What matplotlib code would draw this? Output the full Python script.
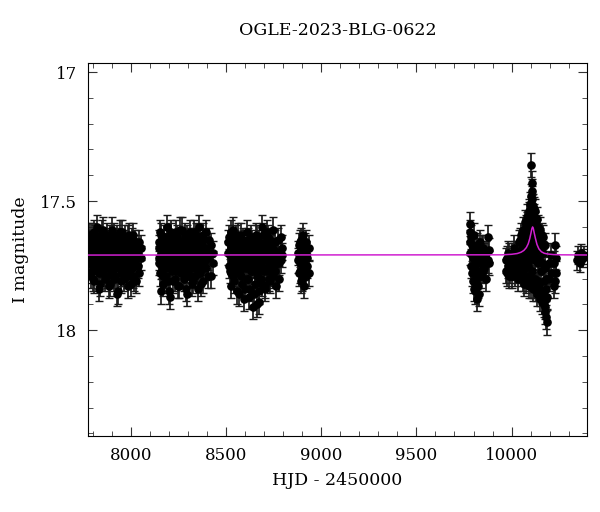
import numpy as np
import matplotlib
matplotlib.use("Agg")
import matplotlib.pyplot as plt
from matplotlib.ticker import MultipleLocator

plt.rcParams['font.family'] = ['DejaVu Serif']

# --- light curve, one block per observing season (HJD - 2450000, I mag) ---
# two frames per night -> two magnitude lists share one list of times
s1_t = [7776, 7780, 7783, 7788, 7791, 7795, 7799, 7802, 7806, 7810,
        7813, 7817, 7821, 7825, 7828, 7832, 7836, 7840, 7843, 7847,
        7851, 7855, 7858, 7862, 7866, 7870, 7873, 7877, 7881, 7885,
        7888, 7892, 7896, 7900, 7903, 7907, 7911, 7915, 7918, 7922,
        7926, 7930, 7933, 7937, 7941, 7945, 7948, 7952, 7956, 7960,
        7963, 7967, 7971, 7975, 7978, 7982, 7986, 7990, 7993, 7997,
        8001, 8005, 8008, 8012, 8016, 8020, 8026, 8033, 8041, 8052]
s1_mag = [17.70, 17.66, 17.74, 17.79, 17.63, 17.72, 17.68, 17.81, 17.75, 17.64,
          17.71, 17.77, 17.60, 17.69, 17.84, 17.73, 17.66, 17.70, 17.78, 17.62,
          17.75, 17.68, 17.72, 17.80, 17.65, 17.71, 17.63, 17.76, 17.69, 17.74,
          17.82, 17.67, 17.70, 17.61, 17.77, 17.73, 17.66, 17.79, 17.70, 17.64,
          17.72, 17.85, 17.68, 17.75, 17.62, 17.71, 17.78, 17.66, 17.73, 17.69,
          17.80, 17.64, 17.74, 17.70, 17.67, 17.83, 17.72, 17.63, 17.76, 17.69,
          17.71, 17.65, 17.79, 17.73, 17.68, 17.74, 17.81, 17.70, 17.66, 17.72]
s1_mag2 = [17.74, 17.69, 17.63, 17.72, 17.77, 17.66, 17.80, 17.70, 17.62, 17.73,
           17.68, 17.75, 17.71, 17.64, 17.78, 17.67, 17.82, 17.73, 17.65, 17.70,
           17.61, 17.76, 17.69, 17.67, 17.74, 17.79, 17.72, 17.66, 17.83, 17.70,
           17.64, 17.75, 17.77, 17.68, 17.72, 17.63, 17.80, 17.71, 17.74, 17.86,
           17.67, 17.70, 17.76, 17.65, 17.73, 17.81, 17.69, 17.62, 17.75, 17.78,
           17.66, 17.72, 17.68, 17.79, 17.74, 17.64, 17.70, 17.77, 17.67, 17.82,
           17.73, 17.76, 17.63, 17.69, 17.80, 17.66, 17.72, 17.75, 17.78, 17.68]
s1_err = 0.047

s2_t = [8143, 8147, 8150, 8154, 8158, 8162, 8166, 8169, 8173, 8177,
        8181, 8185, 8188, 8192, 8196, 8200, 8204, 8207, 8211, 8215,
        8219, 8223, 8226, 8230, 8234, 8238, 8242, 8245, 8249, 8253,
        8257, 8261, 8264, 8268, 8272, 8276, 8280, 8283, 8287, 8291,
        8295, 8299, 8302, 8306, 8310, 8314, 8318, 8321, 8325, 8329,
        8333, 8337, 8340, 8344, 8348, 8352, 8356, 8359, 8363, 8367,
        8371, 8375, 8379, 8384, 8389, 8395, 8402, 8410, 8419, 8428]
s2_mag = [17.68, 17.74, 17.62, 17.85, 17.71, 17.66, 17.79, 17.70, 17.64, 17.76,
          17.72, 17.60, 17.69, 17.81, 17.67, 17.74, 17.87, 17.71, 17.63, 17.77,
          17.70, 17.66, 17.73, 17.80, 17.62, 17.69, 17.75, 17.65, 17.72, 17.83,
          17.68, 17.74, 17.61, 17.70, 17.78, 17.66, 17.73, 17.69, 17.84, 17.64,
          17.71, 17.76, 17.67, 17.62, 17.79, 17.70, 17.73, 17.65, 17.81, 17.68,
          17.72, 17.75, 17.63, 17.70, 17.66, 17.78, 17.60, 17.74, 17.69, 17.82,
          17.71, 17.65, 17.76, 17.68, 17.73, 17.62, 17.79, 17.70, 17.67, 17.74]
s2_mag2 = [17.72, 17.66, 17.78, 17.70, 17.63, 17.75, 17.68, 17.82, 17.73, 17.67,
           17.79, 17.71, 17.64, 17.74, 17.70, 17.85, 17.66, 17.62, 17.76, 17.69,
           17.81, 17.73, 17.67, 17.71, 17.77, 17.64, 17.70, 17.83, 17.68, 17.74,
           17.61, 17.78, 17.72, 17.66, 17.75, 17.80, 17.69, 17.63, 17.73, 17.77,
           17.86, 17.67, 17.71, 17.74, 17.65, 17.68, 17.82, 17.76, 17.70, 17.62,
           17.79, 17.66, 17.73, 17.69, 17.84, 17.71, 17.75, 17.64, 17.78, 17.67,
           17.70, 17.81, 17.63, 17.74, 17.68, 17.76, 17.72, 17.65, 17.79, 17.70]
s2_err = 0.047

s3_t = [8511, 8515, 8518, 8522, 8526, 8530, 8534, 8537, 8541, 8545,
        8549, 8553, 8556, 8560, 8564, 8568, 8572, 8575, 8579, 8583,
        8587, 8591, 8594, 8598, 8602, 8606, 8610, 8613, 8617, 8621,
        8625, 8629, 8632, 8636, 8640, 8644, 8648, 8651, 8655, 8659,
        8663, 8667, 8670, 8674, 8678, 8682, 8686, 8689, 8693, 8697,
        8701, 8705, 8708, 8712, 8716, 8720, 8724, 8727, 8731, 8735,
        8739, 8743, 8747, 8752, 8757, 8763, 8770, 8778, 8786, 8795]
s3_mag = [17.70, 17.64, 17.77, 17.83, 17.68, 17.73, 17.61, 17.79, 17.71, 17.66,
          17.75, 17.69, 17.85, 17.63, 17.72, 17.78, 17.67, 17.74, 17.70, 17.82,
          17.65, 17.73, 17.88, 17.69, 17.76, 17.62, 17.71, 17.80, 17.67, 17.74,
          17.84, 17.70, 17.64, 17.77, 17.72, 17.86, 17.68, 17.75, 17.63, 17.79,
          17.90, 17.71, 17.66, 17.89, 17.74, 17.69, 17.82, 17.60, 17.73, 17.77,
          17.67, 17.84, 17.70, 17.62, 17.76, 17.71, 17.80, 17.65, 17.73, 17.68,
          17.78, 17.61, 17.72, 17.75, 17.66, 17.83, 17.70, 17.74, 17.64, 17.71]
s3_mag2 = [17.66, 17.75, 17.71, 17.62, 17.78, 17.69, 17.74, 17.67, 17.81, 17.72,
           17.64, 17.77, 17.70, 17.75, 17.86, 17.68, 17.73, 17.63, 17.79, 17.70,
           17.76, 17.66, 17.72, 17.84, 17.69, 17.74, 17.80, 17.65, 17.71, 17.87,
           17.68, 17.77, 17.73, 17.66, 17.91, 17.70, 17.75, 17.82, 17.69, 17.64,
           17.78, 17.72, 17.85, 17.74, 17.67, 17.80, 17.71, 17.76, 17.63, 17.69,
           17.83, 17.73, 17.66, 17.77, 17.70, 17.64, 17.75, 17.81, 17.68, 17.72,
           17.66, 17.79, 17.74, 17.69, 17.77, 17.71, 17.65, 17.80, 17.73, 17.68]
s3_err = 0.047

s4_t = [8877, 8881, 8885, 8889, 8893, 8897, 8901, 8905, 8909, 8913, 8917, 8921, 8926, 8932]
s4_mag = [17.70, 17.78, 17.66, 17.74, 17.81, 17.69, 17.63, 17.76, 17.72, 17.67, 17.79, 17.71, 17.75, 17.68]
s4_mag2 = [17.73, 17.67, 17.77, 17.71, 17.65, 17.80, 17.74, 17.69, 17.83, 17.76, 17.70, 17.66, 17.72, 17.78]
s4_err = 0.047

s5_t = [9780, 9784, 9788, 9792, 9796, 9800, 9804, 9808, 9812, 9816,
        9820, 9824, 9828, 9833, 9838, 9843, 9849, 9856, 9865, 9876, 9883]
s5_mag = [17.62, 17.59, 17.75, 17.67, 17.81, 17.63, 17.72, 17.85, 17.69, 17.77,
          17.88, 17.83, 17.71, 17.66, 17.79, 17.73, 17.68, 17.76, 17.70, 17.64, 17.74]
s5_mag2 = [17.66, 17.70, 17.64, 17.78, 17.72, 17.84, 17.69, 17.75, 17.81, 17.67,
           17.73, 17.79, 17.86, 17.70, 17.74, 17.68, 17.77, 17.71, 17.80, 17.73, 17.69]
s5_err = 0.047

s6_t = [9972, 9976, 9981, 9987, 9993, 10000, 10006, 10012, 10018, 10024,
        10030, 10035, 10040, 10044, 10048, 10052, 10056, 10060, 10063, 10066,
        10069, 10072, 10075, 10078, 10081, 10084, 10087, 10090, 10092, 10094,
        10096, 10098, 10100, 10102, 10104, 10105, 10106, 10107, 10108, 10110,
        10112, 10114, 10116, 10118, 10120, 10123, 10126, 10129, 10132, 10135,
        10138, 10141, 10144, 10148, 10151, 10155, 10158, 10162, 10166, 10170,
        10174, 10178, 10181, 10184, 10188, 10195, 10210, 10222, 10229, 10236]
s6_mag = [17.77, 17.72, 17.70, 17.79, 17.74, 17.71, 17.76, 17.68, 17.78, 17.73,
          17.70, 17.80, 17.66, 17.74, 17.69, 17.63, 17.77, 17.71, 17.61, 17.82,
          17.67, 17.58, 17.74, 17.64, 17.56, 17.79, 17.69, 17.54, 17.62, 17.83,
          17.51, 17.72, 17.58, 17.48, 17.66, 17.36, 17.43, 17.52, 17.77, 17.49,
          17.61, 17.84, 17.53, 17.70, 17.56, 17.80, 17.59, 17.66, 17.86, 17.62,
          17.74, 17.60, 17.82, 17.88, 17.65, 17.77, 17.63, 17.85, 17.70, 17.90,
          17.67, 17.93, 17.80, 17.95, 17.87, 17.74, 17.71, 17.83, 17.67, 17.78]
s6_mag2 = [17.73, 17.78, 17.75, 17.71, 17.77, 17.79, 17.72, 17.75, 17.70, 17.77,
           17.74, 17.71, 17.76, 17.65, 17.78, 17.72, 17.66, 17.80, 17.70, 17.64,
           17.76, 17.68, 17.60, 17.81, 17.71, 17.59, 17.75, 17.66, 17.55, 17.73,
           17.64, 17.80, 17.53, 17.69, 17.57, 17.83, 17.62, 17.46, 17.71, 17.56,
           17.80, 17.52, 17.67, 17.83, 17.61, 17.54, 17.73, 17.84, 17.57, 17.69,
           17.81, 17.64, 17.72, 17.61, 17.86, 17.68, 17.89, 17.74, 17.64, 17.81,
           17.91, 17.76, 17.88, 17.84, 17.97, 17.80, 17.78, 17.74, 17.81, 17.72]
s6_err = 0.047

s7_t = [10346, 10352, 10360, 10368, 10375, 10381]
s7_mag = [17.73, 17.71, 17.74, 17.70, 17.72, 17.71]
s7_err = 0.035

# model curve
model_t = [7700, 9950, 10000, 10030, 10050, 10065, 10078, 10088, 10096, 10102,
           10107, 10111, 10115, 10120, 10126, 10134, 10144, 10157, 10172, 10192,
           10220, 10260, 10450]
model_mag = [17.709, 17.708, 17.706, 17.703, 17.698, 17.691, 17.680, 17.665, 17.645, 17.625,
             17.607, 17.600, 17.607, 17.625, 17.645, 17.668, 17.685, 17.696, 17.702, 17.705,
             17.707, 17.708, 17.709]

seasons = [(s1_t, s1_mag, s1_err), (s1_t, s1_mag2, s1_err),
           (s2_t, s2_mag, s2_err), (s2_t, s2_mag2, s2_err),
           (s3_t, s3_mag, s3_err), (s3_t, s3_mag2, s3_err),
           (s4_t, s4_mag, s4_err), (s4_t, s4_mag2, s4_err),
           (s5_t, s5_mag, s5_err), (s5_t, s5_mag2, s5_err),
           (s6_t, s6_mag, s6_err), (s6_t, s6_mag2, s6_err),
           (s7_t, s7_mag, s7_err)]

fig = plt.figure(figsize=(6.0, 5.12), dpi=100)
ax = fig.add_axes([0.1467, 0.1484, 0.8316, 0.7285])

for t, m, e in seasons:
    ax.errorbar(t, m, yerr=e, fmt='o', color='black', ecolor='#1a1a1a',
                ms=5.2, elinewidth=1.25, capsize=2.6, capthick=1.0, zorder=2)

ax.plot(model_t, model_mag, color='#d020d0', lw=1.1, zorder=3)

ax.set_xlim(7772, 10397)
ax.set_ylim(18.41, 16.965)

ax.xaxis.set_major_locator(MultipleLocator(500))
ax.xaxis.set_minor_locator(MultipleLocator(100))
ax.yaxis.set_major_locator(MultipleLocator(0.5))
ax.yaxis.set_minor_locator(MultipleLocator(0.1))
ax.yaxis.set_major_formatter(plt.FuncFormatter(lambda v, p: f'{v:g}'))

ax.tick_params(which='both', direction='in', top=True, right=True,
               labelsize=12, color='#333333')
ax.tick_params(which='major', length=6.5, pad=8)
ax.tick_params(which='minor', length=3.8)

ax.set_xlabel('HJD - 2450000', fontsize=12.5, labelpad=6)
ax.set_ylabel('I magnitude', fontsize=12.5, labelpad=8)
ax.set_title('OGLE-2023-BLG-0622', fontsize=12.5, pad=20)

fig.savefig('out.png', dpi=100)
